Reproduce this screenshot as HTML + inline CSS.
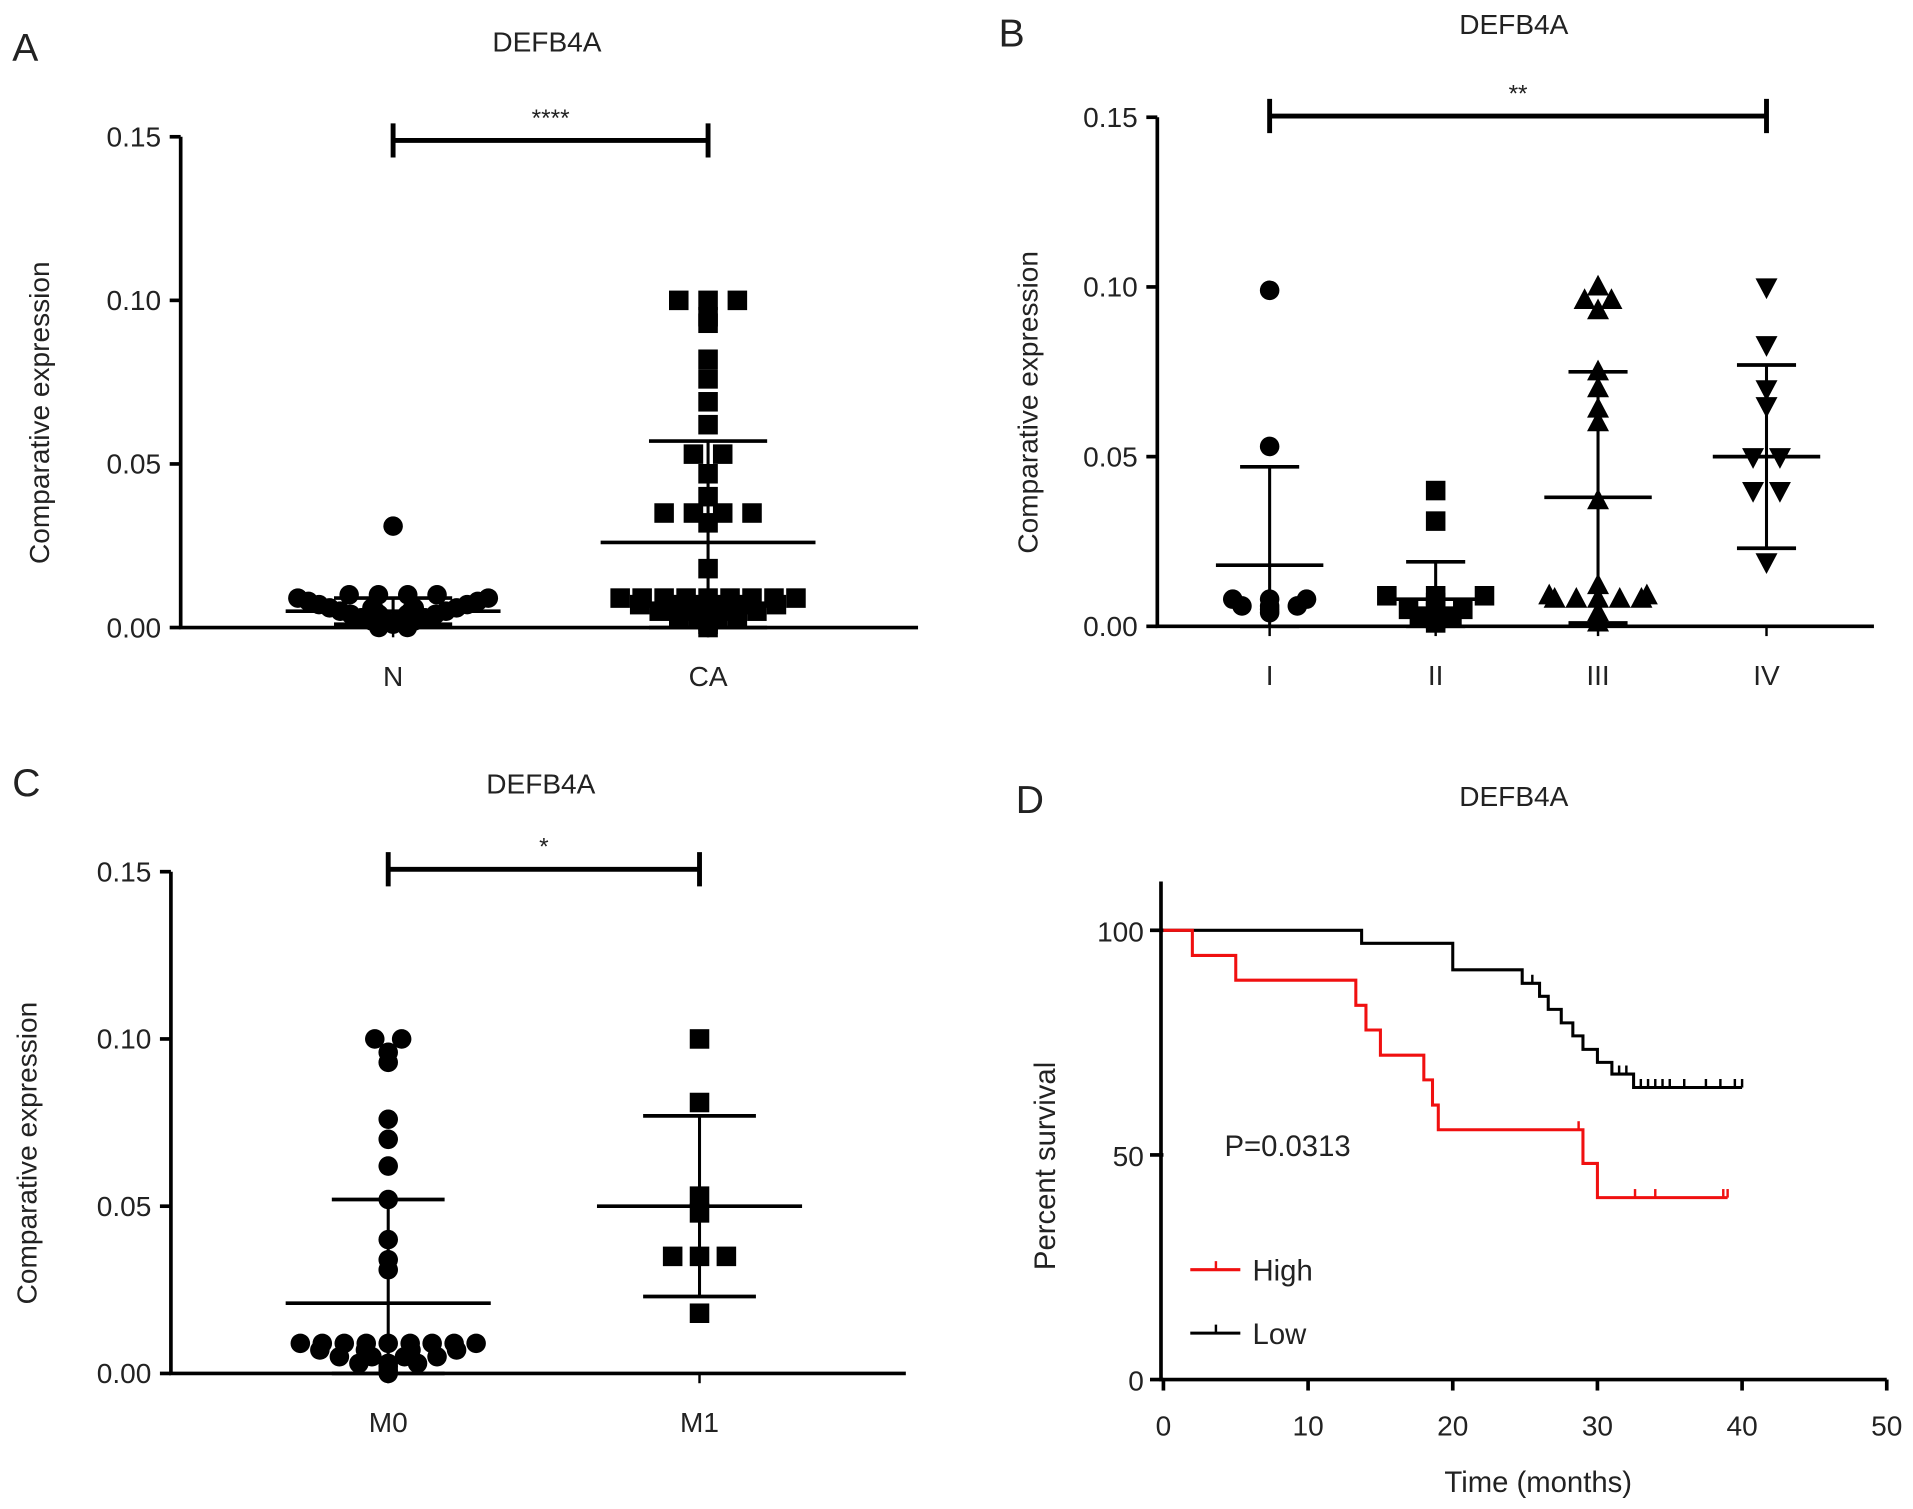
<!DOCTYPE html>
<html><head><meta charset="utf-8"><style>
html,body{margin:0;padding:0;background:#fff}
svg{display:block}
text{font-family:"Liberation Sans",sans-serif;fill:#222}
</style></head><body>
<svg id="fig" width="1913" height="1509" viewBox="0 0 1567 1236" xmlns="http://www.w3.org/2000/svg"></svg>
<script>
// ---------- DATA ----------
const aCats = ["N","CA"];
const aN = [0.031,0.010,0.010,0.010,0.010,0.009,0.009,0.008,0.008,0.007,0.007,0.006,0.006,0.006,0.006,0.005,0.005,0.005,0.005,0.004,0.004,0.004,0.004,0.003,0.003,0.003,0.003,0.002,0.002,0.002,0.002,0.001,0.001,0.001,0.000,0.000];
const aCA = [0.100,0.100,0.100,0.095,0.093,0.082,0.076,0.069,0.062,0.053,0.053,0.047,0.040,0.035,0.035,0.035,0.035,0.032,0.018,0.009,0.009,0.009,0.009,0.009,0.009,0.009,0.009,0.009,0.007,0.007,0.007,0.007,0.007,0.007,0.005,0.005,0.005,0.005,0.005,0.003,0.003,0.003,0.003,0.002,0.001,0.000];
const aMean = [0.005,0.026];
const aSD = [0.004,0.031];
const bCats = ["I","II","III","IV"];
const bI = [0.099,0.053,0.008,0.008,0.008,0.006,0.006,0.006,0.005,0.004];
const bII = [0.040,0.031,0.009,0.009,0.009,0.007,0.006,0.005,0.005,0.004,0.003,0.003,0.002,0.001];
const bIII = [0.100,0.096,0.096,0.093,0.075,0.070,0.064,0.060,0.037,0.012,0.009,0.009,0.008,0.008,0.008,0.008,0.008,0.004,0.003,0.001];
const bIV = [0.100,0.083,0.070,0.065,0.050,0.050,0.040,0.040,0.019];
const bMean = [0.018,0.008,0.038,0.050];
const bSD = [0.029,0.011,0.037,0.027];
const cCats = ["M0","M1"];
const cM0 = [0.100,0.100,0.096,0.093,0.076,0.070,0.062,0.052,0.040,0.034,0.031,0.009,0.009,0.009,0.009,0.009,0.009,0.009,0.009,0.009,0.007,0.007,0.007,0.007,0.005,0.005,0.005,0.005,0.003,0.003,0.003,0.002,0.001,0.000];
const cM1 = [0.100,0.081,0.053,0.048,0.035,0.035,0.035,0.018];
const cMean = [0.021,0.050];
const cSD = [0.031,0.027];
const kmHighT = [0,2,5,13.3,14,15,18,18.6,19,29,30,39];
const kmHighS = [100,94.4,88.9,83.3,77.8,72.2,66.7,61.1,55.6,48.1,40.5,40.5];
const kmHighCens = [28.7,32.6,34,38.7,39];
const kmLowT = [0,13.7,20,24.8,26,26.6,27.5,28.3,29,30,31,32.5,40];
const kmLowS = [100,97.1,91.2,88.2,85.3,82.4,79.4,76.5,73.5,70.6,68.0,65.0,65.0];
const kmLowCens = [25.5,31.5,32,33,33.5,34,34.5,35,36,37.5,38.5,39.5,40];
const kmXTicks = [0,10,20,30,40,50];
const kmYTicks = [0,50,100];
const yTicks = [0,0.05,0.10,0.15];
// ---------- HELPERS ----------
const NS="http://www.w3.org/2000/svg";
const svg=document.getElementById('fig');
function mk(tag,attrs,parent){const e=document.createElementNS(NS,tag);for(const k in attrs)e.setAttribute(k,attrs[k]);(parent||svg).appendChild(e);return e;}
function txt(x,y,s,size,anchor,parent,rot){const t=mk('text',{x:x,y:y,'font-size':size,'text-anchor':anchor||'middle'},parent);if(rot)t.setAttribute('transform',`rotate(-90 ${x} ${y})`);t.textContent=s;return t;}
function swarm(vals,spacing,halfW){
  const out=[];
  const lowG={};
  vals.filter(v=>v<0.0095).forEach(v=>{const k=v.toFixed(3);(lowG[k]=lowG[k]||[]).push(v);});
  for(const k in lowG){
    const g=lowG[k];const w=Math.max(0.15,parseFloat(k)/0.009)*halfW;
    g.forEach((v,i)=>{const dx=g.length===1?0:-w+2*w*i/(g.length-1);out.push({v:v,dx:dx});});
  }
  const groups={};
  vals.filter(v=>v>=0.0095).forEach(v=>{const k=Math.round(v/0.004);(groups[k]=groups[k]||[]).push(v);});
  for(const k in groups){const g=groups[k];g.forEach((v,i)=>out.push({v:v,dx:(i-(g.length-1)/2)*spacing}));}
  return out;
}
function marker(g,shape,x,y){
  let e;
  if(shape==='circle')e=mk('circle',{cx:x,cy:y,r:8,fill:'#000'},g);
  else if(shape==='square')e=mk('rect',{x:x-8,y:y-8,width:16,height:16,fill:'#000'},g);
  else if(shape==='tri')e=mk('polygon',{points:`${x},${y-10} ${x-9},${y+7} ${x+9},${y+7}`,fill:'#000'},g);
  else e=mk('polygon',{points:`${x},${y+10} ${x-9},${y-7} ${x+9},${y-7}`,fill:'#000'},g);
  return e;
}
function scatterPanel(o){
  const g=mk('g',{});
  
  
  const ys=v=>o.y0-(v/0.05)*o.per;
  const xs=i=>o.xPos[i];
  const ax=mk('path',{d:`M${o.ax},${ys(0.15)} V${o.y0} H${o.axEnd}`,stroke:'#000','stroke-width':3,fill:'none'},g);
  
  
  yTicks.forEach(t=>{
    mk('line',{x1:o.ax-9,x2:o.ax,y1:ys(t),y2:ys(t),stroke:'#000','stroke-width':3},g);
    const l=txt(o.ax-16,ys(t)+8,t.toFixed(2),23,'end',g);
    
    
  });
  o.cats.forEach((c,i)=>{
    mk('line',{x1:xs(i),x2:xs(i),y1:o.y0,y2:o.y0+8,stroke:'#000','stroke-width':2},g);
    const l=txt(xs(i),o.y0+48,c,23,'middle',g);
    
    
  });
  const yt=txt(o.ylx,(ys(0.15)+o.y0)/2+25,'Comparative expression',23,'middle',g,true);
  
  
  const tt=txt(o.titleX,o.titleY,'DEFB4A',23,'middle',g);
  
  
  const pl=txt(o.letterX,o.letterY,o.letter,32,'start',g);
  
  
  o.series.forEach((vals,i)=>{
    swarm(vals,o.spacing,o.halfW[i]).forEach(p=>{
      const m=marker(g,o.shapes[i],xs(i)+p.dx,ys(p.v));
      
      
    });
    const mn=o.mean[i],sd=o.sd[i];
    const w=o.meanW;
    const e1=mk('line',{x1:xs(i)-w,x2:xs(i)+w,y1:ys(mn),y2:ys(mn),stroke:'#000','stroke-width':3},g);
    
    
    mk('line',{x1:xs(i),x2:xs(i),y1:ys(mn+sd),y2:ys(Math.max(0,mn-sd)),stroke:'#000','stroke-width':2.5},g);
    [mn+sd,Math.max(0,mn-sd)].forEach(v=>{
      const c=mk('line',{x1:xs(i)-w*0.55,x2:xs(i)+w*0.55,y1:ys(v),y2:ys(v),stroke:'#000','stroke-width':3},g);
      
      
    });
  });
  const b1=xs(o.sig[0]),b2=xs(o.sig[1]);
  const sb=mk('path',{d:`M${b1},${o.sigY-14} V${o.sigY+14} M${b1},${o.sigY} H${b2} M${b2},${o.sigY-14} V${o.sigY+14}`,stroke:'#000','stroke-width':4,fill:'none'},g);
  
  
  const st=txt((b1+b2)/2,o.sigY-12,o.stars,20,'middle',g);
  
  
}
scatterPanel({name:'panel-a',letter:'A',letterX:10,letterY:50,titleX:448,titleY:42,ax:148,axEnd:752,y0:514,per:134,xPos:[322,580],cats:aCats,series:[aN,aCA],shapes:['circle','square'],mean:aMean,sd:aSD,meanW:88,halfW:[78,72],spacing:24,sig:[0,1],sigY:115,stars:'****',ylx:40});
scatterPanel({name:'panel-b',letter:'B',letterX:818,letterY:38,titleX:1240,titleY:28,ax:948,axEnd:1535,y0:513,per:139,xPos:[1040,1176,1309,1447],cats:bCats,series:[bI,bII,bIII,bIV],shapes:['circle','square','tri','itri'],mean:bMean,sd:bSD,meanW:44,halfW:[34,40,40,40],spacing:22,sig:[0,3],sigY:95,stars:'**',ylx:850});
scatterPanel({name:'panel-c',letter:'C',letterX:10,letterY:652,titleX:443,titleY:650,ax:140,axEnd:742,y0:1125,per:137,xPos:[318,573],cats:cCats,series:[cM0,cM1],shapes:['circle','square'],mean:cMean,sd:cSD,meanW:84,halfW:[72,40],spacing:22,sig:[0,1],sigY:712,stars:'*',ylx:30});
// ---------- PANEL D (KM) ----------
(function(){
  const g=mk('g',{});
  
  
  const x0=953,xPer=11.85,y0=1130,yPer=3.68;
  const xs=t=>x0+t*xPer, ys=s=>y0-s*yPer;
  const ax=mk('path',{d:`M${x0-2},722 V${y0} H${xs(50)}`,stroke:'#000','stroke-width':3,fill:'none'},g);
  
  
  kmXTicks.forEach(t=>{
    mk('line',{x1:xs(t),x2:xs(t),y1:y0,y2:y0+9,stroke:'#000','stroke-width':3},g);
    const l=txt(xs(t),y0+46,String(t),23,'middle',g);
    
    
  });
  kmYTicks.forEach(t=>{
    mk('line',{x1:x0-11,x2:x0,y1:ys(t),y2:ys(t),stroke:'#000','stroke-width':3},g);
    const l=txt(x0-16,ys(t)+9,String(t),23,'end',g);
    
    
  });
  const xt=txt(1260,1222,'Time (months)',24,'middle',g);
  
  
  const yt=txt(864,955,'Percent survival',24,'middle',g,true);
  
  
  const tt=txt(1240,660,'DEFB4A',23,'middle',g);
  
  
  const pl=txt(832,666,'D',32,'start',g);
  
  
  const pv=txt(1003,947,'P=0.0313',24,'start',g);
  
  
  function curve(T,S,cens,color,name){
    let d=`M${xs(T[0])},${ys(S[0])}`;
    for(let i=1;i<T.length;i++){d+=` H${xs(T[i])} V${ys(S[i])}`;}
    const p=mk('path',{d:d,stroke:color,'stroke-width':2.5,fill:'none'},g);
    
    
    cens.forEach(c=>{
      let s=S[0];for(let i=0;i<T.length;i++){if(T[i]<=c)s=S[i];}
      const m=mk('line',{x1:xs(c),x2:xs(c),y1:ys(s),y2:ys(s)-7,stroke:color,'stroke-width':2},g);
      
      
    });
  }
  curve(kmLowT,kmLowS,kmLowCens,'#000','low-curve');
  curve(kmHighT,kmHighS,kmHighCens,'#f01010','high-curve');
  [['High','#f01010',1040],['Low','#000',1092]].forEach(([lab,col,y])=>{
    const le=mk('g',{},g);
    
    
    mk('line',{x1:975,x2:1016,y1:y,y2:y,stroke:col,'stroke-width':2.5},le);
    mk('line',{x1:996,x2:996,y1:y,y2:y-7,stroke:col,'stroke-width':2},le);
    txt(1026,y+9,lab,24,'start',le);
  });
})();
</script>
</body></html>
